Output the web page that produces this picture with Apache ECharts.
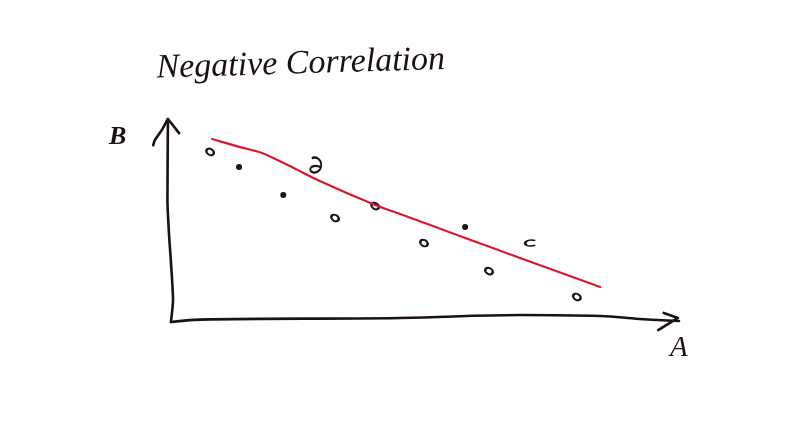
<!DOCTYPE html>
<html>
<head>
<meta charset="utf-8">
<style>html,body{margin:0;padding:0;background:#fff}#c{width:800px;height:428px}</style>
<script src="https://cdn.jsdelivr.net/npm/echarts@6/dist/echarts.min.js"></script>
</head>
<body>
<div id="c"></div>
<script>
const titleText = "Negative Correlation";
const xName = "A";
const yName = "B";
const dotPoints = [[13.2,76.7],[21.9,62.9],[57.7,47]];
const ringPoints = [[32.1,51.5],[40,57.4],[49.6,39.1],[62.4,25.2],[79.7,12.4],[7.5,84.2]];
const curlPoints = [[28.3,77.7]];
const openPoints = [[70.5,39.1]];
const trend = [[7.9,90.6],[13.4,86.6],[17.7,83.7],[23.2,77.2],[29.1,69.8],[40,57.9],[44.9,53.5],[57.3,42],[68.5,31.7],[84.3,17.3]];
const yAxisStroke = [[-0.2,0],[0.2,10.9],[-0.6,44],[-0.9,60],[-0.8,100.5]];
const yArrowStroke = [[-3.7,87.5],[-3.4,90],[-2.0,95],[-0.8,100.5],[1.4,93.5]];
const xAxisStroke = [[-0.2,0],[5.5,1.2],[44.9,2],[68.5,3.5],[84.3,3],[92,1.5],[99.8,0.5]];
const xArrowStroke = [[96.8,4.5],[99.6,2],[95.7,-4]];

const ink = "#1b1012";
const red = "#d8192c";
const chart = echarts.init(document.getElementById("c"), null, {renderer:"canvas"});
const stroke = (data, color, w, smooth) => ({
  type:"line", data, symbol:"none", smooth, clip:false, silent:true,
  lineStyle:{color, width:w, cap:"round", join:"round"}
});
const marks = (data, symbol, size, rotate, style) => ({
  type:"scatter", data, symbol, symbolSize:size, symbolRotate:rotate, clip:false, silent:true,
  itemStyle:Object.assign({opacity:1}, style)
});
chart.setOption({
  animation:false,
  backgroundColor:"#ffffff",
  title:{show:false},
  legend:{show:false},
  tooltip:{show:false},
  grid:{left:121.2, right:120, top:99.8, bottom:85.8},
  xAxis:{type:"value", min:-10, max:100, show:false},
  yAxis:{type:"value", min:-10, max:110, show:false},
  graphic:[
    {type:"text", left:156, top:43, rotation:0.03, style:{text:titleText, font:"italic 34px 'Liberation Serif'", fill:ink}},
    {type:"text", left:109, top:124, style:{text:yName, font:"italic bold 26px 'Liberation Serif'", fill:ink}},
    {type:"text", left:670, top:334, style:{text:xName, font:"italic 29px 'Liberation Serif'", fill:ink}}
  ],
  series:[
    stroke(yAxisStroke, ink, 2.6, 0.2),
    stroke(yArrowStroke, ink, 2.6, false),
    stroke(xAxisStroke, ink, 2.6, 0.4),
    stroke(xArrowStroke, ink, 2.6, false),
    stroke(trend, red, 2.2, 0.3),
    marks(dotPoints, "circle", [6,6], 0, {color:ink}),
    marks(ringPoints, "circle", [8,6], -30, {color:"#ffffff", borderColor:ink, borderWidth:2.2}),
    marks(curlPoints, "path://M2 1C6 -1 10 2 10 8C10 13 6 16 3 15C0 14 0 10 3 9C5 8 8 9 10 10", [11,15], 0, {color:"none", borderColor:ink, borderWidth:2}),
    marks(openPoints, "path://M10 1C6 -1 1 1 1 4C1 7 6 8 10 6", [10,6], 0, {color:"none", borderColor:ink, borderWidth:2})
  ]
});
</script>
</body>
</html>
